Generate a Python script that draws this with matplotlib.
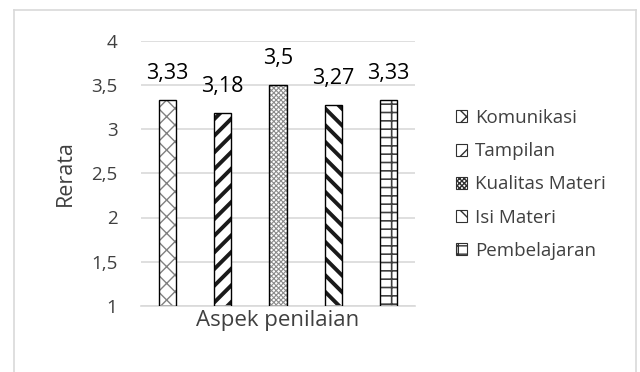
import matplotlib
matplotlib.use("Agg")
import matplotlib.pyplot as plt
from matplotlib.lines import Line2D
from matplotlib.patches import Patch

plt.rcParams['font.family'] = ['Open Sans', 'DejaVu Sans']

aspects = ['Komunikasi', 'Tampilan', 'Kualitas Materi', 'Isi Materi', 'Pembelajaran']
rerata = [3.33, 3.18, 3.5, 3.27, 3.33]
value_labels = ['3,33', '3,18', '3,5', '3,27', '3,33']
yticks = [1, 1.5, 2, 2.5, 3, 3.5, 4]
ytick_labels = ['1', '1,5', '2', '2,5', '3', '3,5', '4']

hatches = ['xx', '//', 'xxxxxxx', '\\\\', '+-']
hatch_colors = ['#808080', '#1a1a1a', '#8c8c8c', '#1a1a1a', '#404040']
hatch_widths = [1.0, 2.8, 0.8, 2.8, 1.2]

fig = plt.figure(figsize=(6.4, 3.72), dpi=100)
ax = fig.add_axes([141/640, 1-306/372, (415-141)/640, (306-40.5)/372])

# chart frame (light gray, open at the bottom)
fx0, fx1, fy1 = 14/640, 636/640, 1-10/372
for xs, ys in [([fx0, fx0], [0, fy1]), ([fx0, fx1], [fy1, fy1]), ([fx1, fx1], [fy1, 0])]:
    fig.add_artist(Line2D(xs, ys, color='#d9d9d9', lw=1.2, transform=fig.transFigure))

width = 0.31
handles = []
for i, (name, v) in enumerate(zip(aspects, rerata)):
    b = ax.bar(i, v - 1, bottom=1, width=width, color='white',
               edgecolor=hatch_colors[i], linewidth=0, hatch=hatches[i], zorder=2)[0]
    if hasattr(b, 'set_hatch_linewidth'):
        b.set_hatch_linewidth(hatch_widths[i])
    ax.bar(i, v - 1, bottom=1, width=width, color='none',
           edgecolor='black', linewidth=1.0, zorder=3)
    ax.annotate(value_labels[i], (i, v), xytext=(0, 15), textcoords='offset points',
                ha='center', va='baseline', fontsize=15.5, color='black')
    handles.append(Patch(facecolor='white', edgecolor=hatch_colors[i], hatch=hatches[i], linewidth=0))

ax.set_xlim(-0.482, 4.482)
ax.set_ylim(1, 4)
ax.set_yticks(yticks)
ax.set_yticklabels(ytick_labels, fontsize=13.5, color='#404040')
ax.set_xticks([])
ax.tick_params(axis='y', length=0, pad=17)
ax.yaxis.grid(True, color='#d9d9d9', lw=1.2, zorder=0)
for s in ['top', 'right', 'left']:
    ax.spines[s].set_visible(False)
ax.spines['bottom'].set_color('#d9d9d9')
ax.spines['bottom'].set_linewidth(1.2)
ax.set_ylabel('Rerata', fontsize=15.5, color='#404040', labelpad=11)
ax.set_xlabel('Aspek penilaian', fontsize=16, color='#404040', labelpad=3)

leg = fig.legend(handles, aspects, loc='upper left', bbox_to_anchor=(456/640, 1-109/372),
                 frameon=False, fontsize=13.5, handlelength=0.6, handleheight=0.6,
                 handletextpad=0.4, labelspacing=0.81, labelcolor='#404040',
                 borderpad=0, borderaxespad=0)
for lh in leg.legend_handles:
    lh.set_edgecolor('#303030')
    lh.set_linewidth(0.8)

fig.savefig('out.png', dpi=100)
